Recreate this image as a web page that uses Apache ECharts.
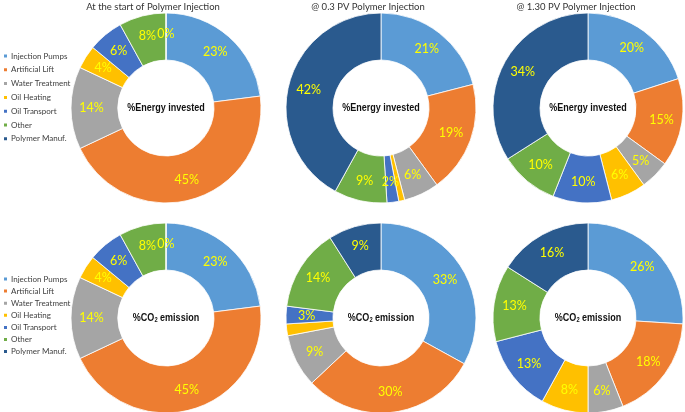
<!DOCTYPE html>
<html><head><meta charset="utf-8">
<script src="https://cdn.jsdelivr.net/npm/echarts@6/dist/echarts.min.js"></script>
<style>html,body{margin:0;padding:0;background:#fff}#c{width:685px;height:412px}</style>
</head><body><div id="c"></div>
<script>
const categories = ['Injection Pumps','Artificial Lift','Water Treatment','Oil Heating','Oil Transport','Other','Polymer Manuf.'];
const colors = ['#5B9BD5','#ED7D31','#A5A5A5','#FFC000','#4472C4','#70AD47','#2A5A8E'];
const titles = ['At the start of Polymer Injection','@ 0.3 PV Polymer Injection','@ 1.30 PV Polymer Injection'];
const energyStart = [23,45,14,4,6,8,0];
const energy03 = [21,19,6,1,2,9,42];
const energy130 = [20,15,5,6,10,10,34];
const co2Start = [23,45,14,4,6,8,0];
const co203 = [33,30,9,2,3,14,9];
const co2130 = [26,18,6,8,13,13,16];

const chart = echarts.init(document.getElementById('c'));
const font = 'Lato, "Open Sans", sans-serif';
const cols = [166, 381, 588];
const titleX = [153, 368, 576];
const rows = [108, 318];
const sets = [[energyStart, energy03, energy130],[co2Start, co203, co2130]];

const series = [];
sets.forEach((row, ri) => row.forEach((vals, ci) => {
  series.push({
    type: 'pie',
    center: [cols[ci], rows[ri]],
    radius: [48, 95],
    startAngle: 90,
    clockwise: true,
    avoidLabelOverlap: false,
    animation: false,
    itemStyle: { borderColor: '#fff', borderWidth: 0.8 },
    label: { show: true, position: 'inside', color: '#FFFF00', fontSize: 12.5, fontFamily: font, fontWeight: 'normal', formatter: '{c}%' },
    labelLine: { show: false },
    emphasis: { disabled: true },
    data: categories.map((n, k) => ({ name: n, value: vals[k] }))
  });
}));

const legendBase = {
  orient: 'vertical', left: 2, padding: 0, itemWidth: 5, itemHeight: 5, icon: 'rect',
  textStyle: { fontSize: 8, color: '#404040', fontFamily: font, padding: [0,0,0,-2] },
  data: categories
};

const centerFont = '"Liberation Sans", Arial, sans-serif';
const graphic = [];
titles.forEach((t, i) => graphic.push({
  type: 'text', x: titleX[i], y: 2, z: 100,
  style: { text: t, fill: '#333', fontSize: 9.5, fontFamily: font, align: 'center', verticalAlign: 'top' }
}));
cols.forEach(x => {
  graphic.push({ type: 'text', x: x, y: rows[0], z: 100, scaleX: 0.82,
    style: { text: '%Energy invested', fill: '#111', fontSize: 11, fontWeight: 'bold', fontFamily: centerFont, align: 'center', verticalAlign: 'middle' } });
  graphic.push({ type: 'text', x: x, y: rows[1], z: 100, scaleX: 0.82,
    style: { text: '%CO{sub|2} emission', fill: '#111', fontSize: 11, fontWeight: 'bold', fontFamily: centerFont, align: 'center', verticalAlign: 'middle',
      rich: { sub: { fontSize: 7, fontWeight: 'bold', fill: '#111', fontFamily: centerFont, verticalAlign: 'bottom', padding: [5,0,0,0] } } } });
});

chart.setOption({
  color: colors,
  animation: false,
  legend: [Object.assign({}, legendBase, { top: 52, itemGap: 5.8 }), Object.assign({}, legendBase, { top: 275, itemGap: 4.1 })],
  graphic: graphic,
  series: series
});
</script></body></html>
